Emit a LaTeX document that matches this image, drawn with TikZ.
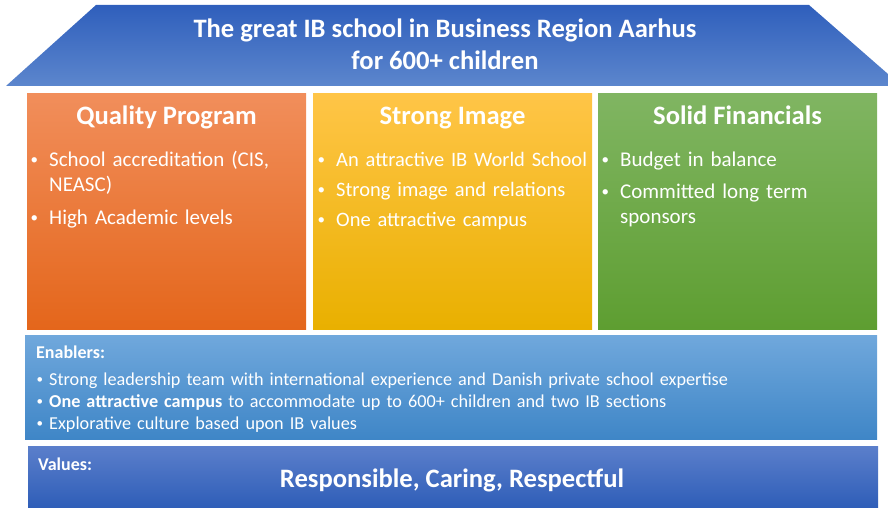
\documentclass[tikz,border=0pt]{standalone}
\usepackage{fontspec}
\setmainfont{Carlito}
\usepackage{enumitem}
\usetikzlibrary{positioning}

\definecolor{roofTop}{HTML}{2F5FBC}
\definecolor{roofBot}{HTML}{5C86CD}
\definecolor{qualTop}{HTML}{F18E5B}
\definecolor{qualBot}{HTML}{E4661B}
\definecolor{imgTop}{HTML}{FFC547}
\definecolor{imgMid}{HTML}{FFC000}
\definecolor{imgBot}{HTML}{E9B000}
\definecolor{finTop}{HTML}{80B562}
\definecolor{finBot}{HTML}{5E9E31}
\definecolor{enbTop}{HTML}{70A8DC}
\definecolor{enbBot}{HTML}{3F86C7}
\definecolor{valTop}{HTML}{5B7FCB}
\definecolor{valBot}{HTML}{2F5EB8}

\newcommand{\dotmark}{\raisebox{0.2ex}{\fontsize{15}{15}\selectfont\textbullet}}
\newcommand{\pointlist}[2][5pt]{%
  \begin{itemize}[label=\dotmark,leftmargin=16pt,labelsep=11pt,topsep=0pt,partopsep=0pt,parsep=0pt,itemsep=#1]#2\end{itemize}}

\tikzset{
  pillar/.style={minimum width=279pt, minimum height=235pt, inner sep=0pt},
  heading/.style={text=white, inner sep=0pt, font=\bfseries\fontsize{26.6}{32}\selectfont},
  points/.style={text=white, inner sep=0pt, text width=280pt, align=left, anchor=north west,
    font=\fontsize{21}{25}\selectfont},
  tag/.style={text=white, inner sep=0pt, anchor=west, font=\bfseries\fontsize{18}{20}\selectfont},
}

\begin{document}
\begin{tikzpicture}[x=1pt,y=-1pt]
\useasboundingbox (0,0) rectangle (888,508);

\shade[top color=roofTop, bottom color=roofBot] (6,86) -- (96,5) -- (809,5) -- (888,74) -- (888,86) -- cycle;
\node[heading, align=center] (goal) at (445,44) {The great IB school in Business Region Aarhus\\for 600+ children};

\node[pillar, top color=qualTop, bottom color=qualBot] (quality) at (166.5,211.5) {};
\node[pillar, top color=imgTop, middle color=imgMid, bottom color=imgBot] (image) at (452.5,211.5) {};
\node[pillar, top color=finTop, bottom color=finBot] (finance) at (737.5,211.5) {};

\node[heading, anchor=base] (qualityhead) at ([yshift=-31pt]quality.north) {Quality Program};
\node[heading, anchor=base] (imagehead) at ([yshift=-31pt]image.north) {Strong Image};
\node[heading, anchor=base] (financehead) at ([yshift=-31pt]finance.north) {Solid Financials};

\node[points] (qualitylist) at (33,141) {\pointlist[8pt]{
  \item School accreditation (CIS,\newline NEASC)
  \item High Academic levels}};
\node[points, font=\fontsize{20.5}{25}\selectfont] (imagelist) at (320,141) {\pointlist[5pt]{
  \item An attractive IB World School
  \item Strong image and relations
  \item One attractive campus}};
\node[points] (financelist) at (604,141) {\pointlist[7pt]{
  \item Budget in balance
  \item Committed long term\newline sponsors}};

\node[minimum width=852pt, minimum height=104pt, inner sep=0pt, top color=enbTop, bottom color=enbBot] (enablers) at (451,387) {};
\node[minimum width=850pt, minimum height=61pt, inner sep=0pt, top color=valTop, bottom color=valBot] (values) at (453,476.5) {};

\node[tag] (enablerstag) at (36,352) {Enablers:};
\node[text=white, inner sep=0pt, anchor=north west, text width=830pt, align=left,
  font=\fontsize{18.2}{22}\selectfont] (enablerlist) at (34,363)
  {\begin{itemize}[label=\raisebox{0.2ex}{\fontsize{13}{13}\selectfont\textbullet},leftmargin=15pt,labelsep=6pt,topsep=0pt,partopsep=0pt,parsep=0pt,itemsep=0pt]
   \item Strong leadership team with international experience and Danish private school expertise
   \item \textbf{One attractive campus} to accommodate up to 600+ children and two IB sections
   \item Explorative culture based upon IB values
   \end{itemize}};

\node[tag] (valuestag) at (38,464) {Values:};
\node[heading] (valuestext) at (452,480) {Responsible, Caring, Respectful};
\end{tikzpicture}
\end{document}
